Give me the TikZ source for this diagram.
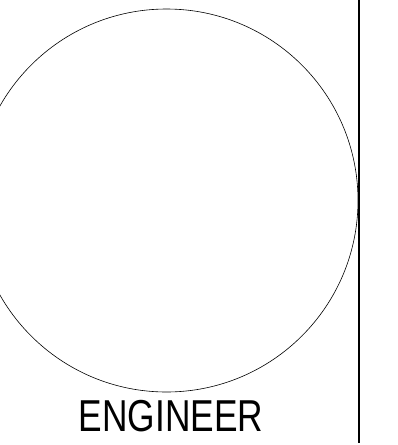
\documentclass[tikz,border=0pt]{standalone}
\usepackage{fontspec}
\setmainfont{Liberation Sans}

\begin{document}
\begin{tikzpicture}[x=1pt,y=-1pt]
    \useasboundingbox (0,0) rectangle (398,445);
    \begin{scope}
        \clip (0,0) rectangle (398,445);
        \draw[line width=0.6pt] (166.5,200.5) circle (191.5);
    \end{scope}

    \coordinate (T) at (359.3,0);
    \coordinate (U) at (359.3,443);
    \draw[line width=1.8pt] (T)--(U);

    \node[xscale=0.79, anchor=base, inner sep=0pt] (eng) at (171,431)
        {\fontsize{44.7}{50}\selectfont ENGINEER};
\end{tikzpicture}
\end{document}
